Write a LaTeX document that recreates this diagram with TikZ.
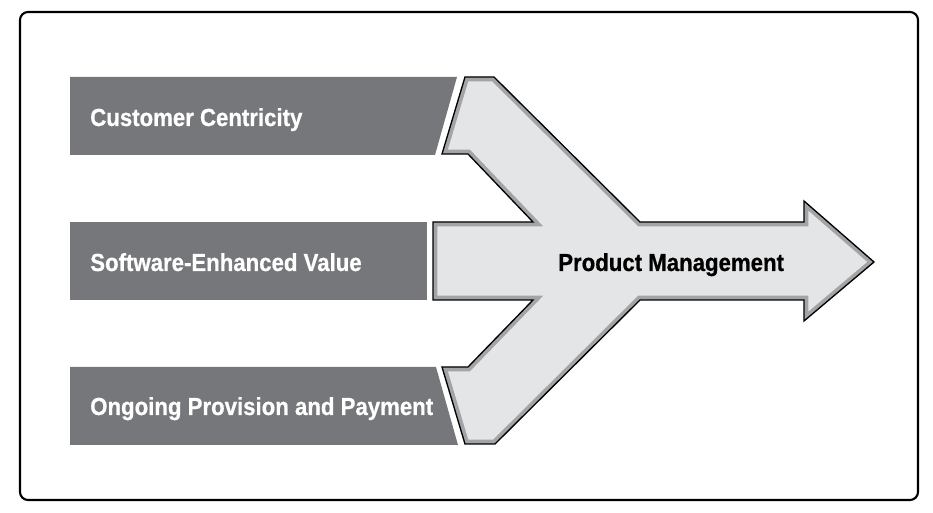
\documentclass[tikz,border=0pt]{standalone}
\usepackage{fontspec}
\newfontfamily\condfont[FakeStretch=0.9,BoldFeatures={FakeBold=0.6}]{Liberation Sans}
\definecolor{barGray}{HTML}{76777B}
\definecolor{arrowFill}{HTML}{E4E5E7}
\definecolor{bandGray}{HTML}{A3A4A7}
\begin{document}
\begin{tikzpicture}[x=0.75pt,y=-0.75pt,
  bar/.style={fill=barGray,draw=none},
  lbl/.style={anchor=base west,inner sep=0pt,text=white,font=\condfont\bfseries\fontsize{18.5}{20}\selectfont},
  plbl/.style={anchor=base west,inner sep=0pt,text=black,font=\condfont\bfseries\fontsize{18.5}{20}\selectfont}]
\useasboundingbox (0,0) rectangle (933,513);
\draw[line width=1.6pt,rounded corners=6pt] (20,12) rectangle (918,500);
% bars
\fill[bar] (70,77) -- (457,77) -- (435,155) -- (70,155) -- cycle;
\fill[bar] (70,222) -- (427,222) -- (427,300) -- (70,300) -- cycle;
\fill[bar] (70,367) -- (436,367) -- (458,445) -- (70,445) -- cycle;
% arrow
\def\arrowpath{(465,77) -- (494,77) -- (640,222) -- (804,222) -- (804,201) -- (874,262) -- (804,321) -- (804,300) -- (640,300) -- (495,444) -- (465,444) -- (442,367) -- (468,367) -- (533,300) -- (433,300) -- (433,222) -- (533,222) -- (468,154) -- (442,154) -- cycle}
\fill[arrowFill] \arrowpath;
\begin{scope}
\clip \arrowpath;
\draw[bandGray,line width=6.5pt,line join=miter] \arrowpath;
\end{scope}
\draw[black,line width=1pt,line join=miter] \arrowpath;
% labels
\node[lbl] (cc) at (90,126) {Customer Centricity};
\node[lbl] (sev) at (90,271) {Software-Enhanced Value};
\node[lbl] (opp) at (90,415) {Ongoing Provision and Payment};
\node[plbl] (pm) at (558,271) {Product Management};
\end{tikzpicture}
\end{document}
